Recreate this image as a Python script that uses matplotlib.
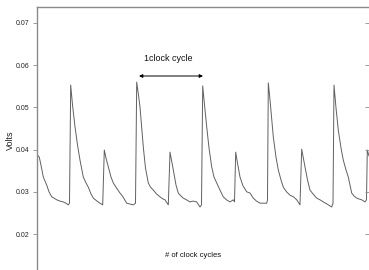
"""
Clock signal trace: voltage over a few clock cycles.
"""
import matplotlib
matplotlib.use("Agg")
import matplotlib.pyplot as plt
from matplotlib.ticker import FormatStrFormatter

plt.rcParams['font.family'] = ['Liberation Sans', 'DejaVu Sans']

# sample time (arbitrary units, one clock cycle is about 66)
time = [0, 0.5, 2.3, 4, 6.3, 9.7, 12, 14.7, 17, 19.7, 23, 26.3, 29, 31.3, 32.5,
        33.7, 35.5, 38, 40.5, 43, 46.3, 49, 51.3, 54, 56.3, 60, 63, 65.7,
        67.3, 69, 71.3, 74, 76.3, 79.5, 83, 86, 89.7, 93, 96.3, 98.5,
        99.7, 101.5, 103, 104.7, 106.3, 108.5, 111.3, 113.5, 116.3, 119.5, 123, 126, 128, 131.3,
        133, 134.5, 136.3, 139, 141.3, 144, 146.3, 149.5, 153, 156, 159.7, 163, 164.5,
        165.7, 167.5, 169.7, 172, 174.7, 177, 179.7, 183, 186.3, 189.5, 193, 196.3, 197.5,
        198.7, 200.5, 203, 206, 209.7, 213, 216.3, 219.5, 223, 226.5, 229.7, 230.5,
        231.3, 233, 236.3, 239, 241.3, 244, 246.3, 249.5, 253, 256.5, 259.7, 263,
        264.7, 266.3, 268, 270.5, 273, 276, 279.7, 283, 286.3, 290, 294.7, 296,
        297, 299, 301.3, 304, 306.3, 309, 311.3, 314.7, 317, 319.7, 322, 324.7, 328, 329.5,
        330.3, 332]

volts = [0.0273, 0.0387, 0.0382, 0.0363, 0.0335, 0.0316, 0.0300, 0.0288, 0.0285, 0.0281,
         0.0278, 0.0276, 0.0273, 0.0269, 0.0273,
         0.0553, 0.0506, 0.0454, 0.0411, 0.0375, 0.0335, 0.0321, 0.0311, 0.0295, 0.0285,
         0.0278, 0.0273, 0.0269,
         0.0399, 0.0380, 0.0359, 0.0335, 0.0321, 0.0309, 0.0297, 0.0288, 0.0273, 0.0271,
         0.0269, 0.0273,
         0.0560, 0.0529, 0.0501, 0.0451, 0.0406, 0.0356, 0.0321, 0.0311, 0.0304, 0.0295,
         0.0288, 0.0283, 0.0281, 0.0269,
         0.0394, 0.0375, 0.0352, 0.0316, 0.0297, 0.0290, 0.0285, 0.0281, 0.0276, 0.0278,
         0.0276, 0.0264, 0.0269,
         0.0551, 0.0506, 0.0454, 0.0404, 0.0359, 0.0335, 0.0321, 0.0304, 0.0288, 0.0281,
         0.0276, 0.0281, 0.0276,
         0.0394, 0.0368, 0.0335, 0.0314, 0.0300, 0.0297, 0.0285, 0.0278, 0.0273, 0.0273,
         0.0273, 0.0281,
         0.0558, 0.0518, 0.0430, 0.0382, 0.0352, 0.0328, 0.0311, 0.0300, 0.0292, 0.0288,
         0.0281, 0.0269,
         0.0401, 0.0380, 0.0359, 0.0328, 0.0304, 0.0295, 0.0285, 0.0281, 0.0276, 0.0271,
         0.0264, 0.0273,
         0.0553, 0.0499, 0.0446, 0.0404, 0.0375, 0.0352, 0.0335, 0.0297, 0.0290, 0.0285,
         0.0283, 0.0281, 0.0276, 0.0281,
         0.0399, 0.0385]

y_ticks = [0.02, 0.03, 0.04, 0.05, 0.06, 0.07]
cycle_start, cycle_end = 102, 166

SPINE = '#8a8a8a'

fig = plt.figure(figsize=(3.69, 2.70), dpi=100)
ax = fig.add_axes([37 / 369, 0.0, 332 / 369, 263 / 270])

ax.plot(time, volts, color='#606060', linewidth=0.7)

ax.set_xlim(0, 332)
ax.set_ylim(0.01147, 0.07379)
ax.set_xticks([])
ax.set_yticks(y_ticks)
ax.yaxis.set_major_formatter(FormatStrFormatter('%.2f'))
ax.tick_params(axis='y', direction='out', length=3, width=0.6, color=SPINE,
               labelsize=5, labelcolor='#222222', pad=2.5)

for side in ['bottom', 'right']:
    ax.spines[side].set_visible(False)
for side in ['top', 'left']:
    ax.spines[side].set_color(SPINE)
    ax.spines[side].set_linewidth(1.0)

# small inward ticks on the right edge
ax2 = ax.twinx()
ax2.set_ylim(ax.get_ylim())
ax2.set_yticks(y_ticks)
ax2.tick_params(axis='y', direction='in', length=3, width=0.6, color=SPINE,
                labelright=False)
for s in ax2.spines.values():
    s.set_visible(False)

# one clock cycle marker
ax.annotate('', xy=(cycle_start, 0.05744), xytext=(cycle_end, 0.05744),
            arrowprops=dict(arrowstyle='<|-|>', color='black', lw=0.7,
                            mutation_scale=5, shrinkA=0, shrinkB=0))
ax.text(131, 0.0617, '1clock cycle', fontsize=6.5, ha='center', va='center',
        color='#111111')
ax.text(156.5, 0.0150, '# of clock cycles', fontsize=5.5, ha='center', va='center',
        color='#111111')

fig.text(10 / 369, 1 - 140 / 270, 'Volts', rotation=90, fontsize=6.5,
         ha='center', va='center', color='#222222')

fig.savefig('out.png', dpi=100)
